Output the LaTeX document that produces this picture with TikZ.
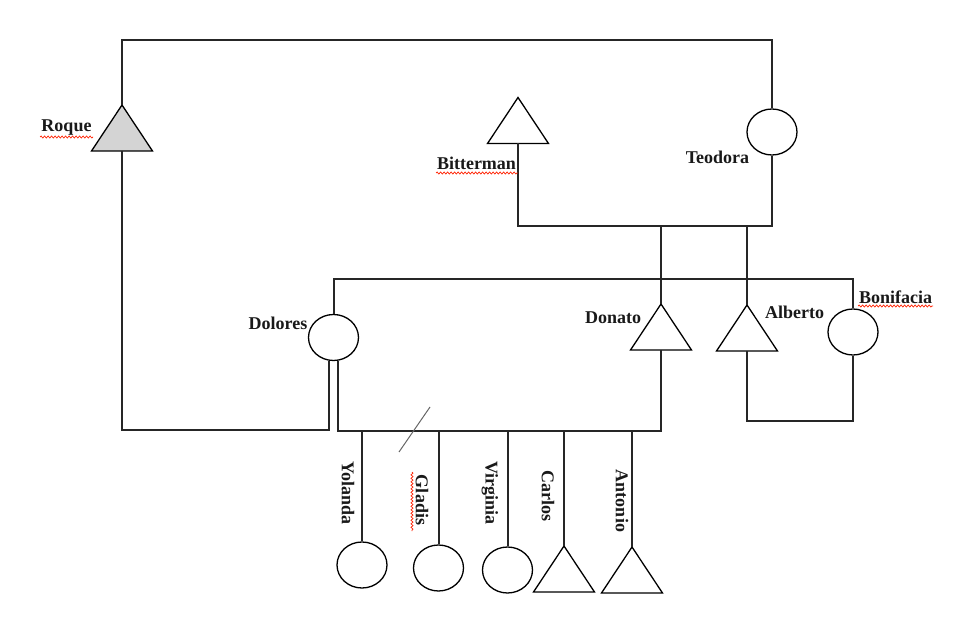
\documentclass[tikz,border=0pt]{standalone}
\usepackage{fontspec}
\setmainfont{Liberation Serif}
\usetikzlibrary{shapes.geometric,decorations.pathmorphing}
\begin{document}
\begin{tikzpicture}[x=1pt,y=-1pt,
  link/.style={line width=2pt, draw=black!85, line join=miter},
  female/.style={draw=black, line width=1.3pt, ellipse, minimum width=50pt, minimum height=46pt, inner sep=0pt, fill=white},
  lbl/.style={font=\fontsize{18}{20}\selectfont\bfseries, inner sep=0pt, text=black!90},
  vlbl/.style={lbl, rotate=-90},
  spell/.style={draw=red!75!orange, line width=0.7pt, decorate, decoration={snake, amplitude=1pt, segment length=3.5pt}},
  slash/.style={draw=black!60, line width=1pt},
  pics/male/.style={code={
    \draw[line width=1.3pt, draw=black, fill=#1, line join=miter] (-30.5,23) -- (0,-23) -- (30.5,23) -- cycle;
    \coordinate (-top) at (0,-23);
    \coordinate (-bot) at (0,23);
  }},
  pics/male/.default=white
]
\useasboundingbox (0,0) rectangle (969,631);

% individuals
\pic (roque) at (122,128) {male=black!17};
\pic (bitterman) at (518,120.5) {male};
\node[female] (teodora) at (772,132) {};
\node[female] (dolores) at (333.5,337.5) {};
\pic (donato) at (661,327) {male};
\pic (alberto) at (747,328) {male};
\node[female] (bonifacia) at (853,332) {};
\node[female] (yolanda) at (362,565) {};
\node[female] (gladis) at (438.5,568) {};
\node[female] (virginia) at (507.5,570) {};
\pic (carlos) at (564,569) {male};
\pic (antonio) at (632,570) {male};

% line levels
\coordinate (topbar) at (0,40);
\coordinate (btbar) at (0,226);
\coordinate (dbbar) at (0,279);
\coordinate (abbar) at (0,421);
\coordinate (rdbar) at (0,430);
\coordinate (ddbar) at (0,431);

% connectors
\draw[link] (roque-top) -- (roque-top |- topbar) -| (teodora.north);
\draw[link] (bitterman-bot) -- (bitterman-bot |- btbar) -| (teodora.south);
\draw[link] (donato-top) -- (donato-top |- btbar);
\draw[link] (alberto-top) -- (alberto-top |- btbar);
\draw[link] (dolores.north) -- (dolores.north |- dbbar) -| (bonifacia.north);
\draw[link] (roque-bot) -- (roque-bot |- rdbar) -| (dolores.260);
\draw[link] (dolores.280) -- (dolores.280 |- ddbar) -| (donato-bot);
\draw[link] (alberto-bot) -- (alberto-bot |- abbar) -| (bonifacia.south);
\draw[link] (yolanda.north) -- (yolanda.north |- ddbar);
\draw[link] (gladis.north) -- (gladis.north |- ddbar);
\draw[link] (virginia.north) -- (virginia.north |- ddbar);
\draw[link] (carlos-top) -- (carlos-top |- ddbar);
\draw[link] (antonio-top) -- (antonio-top |- ddbar);

% slash
\coordinate (s1) at (399,452);
\coordinate (s2) at (430,407);
\draw[slash] (s1) -- (s2);

% labels
\node[lbl] (lroque) at (66.5,128) {Roque};
\node[lbl] (lbitterman) at (476.5,163) {Bitterman};
\node[lbl] (lteodora) at (717.5,157) {Teodora};
\node[lbl] (ldolores) at (278,323) {Dolores};
\node[lbl] (ldonato) at (613,318) {Donato};
\node[lbl] (lalberto) at (794.5,312) {Alberto};
\node[lbl] (lbonifacia) at (895.5,297) {Bonifacia};
\node[vlbl] (lyolanda) at (348,493) {Yolanda};
\node[vlbl] (lgladis) at (422,500) {Gladis};
\node[vlbl] (lvirginia) at (490,493) {Virginia};
\node[vlbl] (lcarlos) at (548,496) {Carlos};
\node[vlbl] (lantonio) at (622,501) {Antonio};

% spell-check underlines
\draw[spell] (40,137) -- (93,137);
\draw[spell] (436,173) -- (518,173);
\draw[spell] (858,306) -- (933,306);
\draw[spell] (412,472) -- (412,531);
\end{tikzpicture}
\end{document}
